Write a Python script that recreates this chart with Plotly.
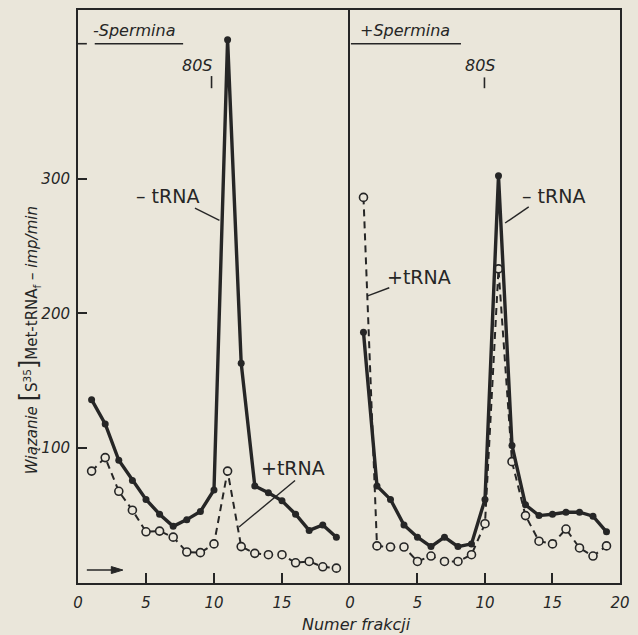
import plotly.graph_objects as go

# ---- data ----
fractions = list(range(1, 20))
left_minus_trna = [136, 118, 91, 76, 62, 51, 42, 47, 53, 69, 403, 163, 72, 67, 61, 51, 39, 43, 34]
left_plus_trna = [83, 93, 68, 54, 38, 38.5, 34, 23, 22.5, 29, 83, 27, 22, 21, 21, 15, 16, 12, 11]
right_minus_trna = [186, 72, 62, 43, 34, 27, 34, 27, 29, 62, 302, 102, 58, 50, 51, 52.5, 52.5, 49.6, 38]
right_plus_trna = [286, 27.5, 26.7, 26.7, 16, 20, 16, 16, 21, 44, 233, 90, 50, 31, 29, 40, 26, 20, 27.5]

x_left_ticks = [0, 5, 10, 15]
x_right_ticks = [0, 5, 10, 15, 20]
y_ticks = [100, 200, 300]

BG = "#eae6da"
INK = "#262626"
FONT = "DejaVu Sans"

fig = go.Figure()

def add_panel(xa, ya, minus, plus):
    fig.add_trace(go.Scatter(
        x=fractions, y=plus, xaxis=xa, yaxis=ya, mode="lines+markers",
        line=dict(color=INK, width=2, dash="7px,5px"),
        marker=dict(symbol="circle", size=8, color=BG, line=dict(color=INK, width=1.6)),
        showlegend=False, hoverinfo="skip"))
    fig.add_trace(go.Scatter(
        x=fractions, y=minus, xaxis=xa, yaxis=ya, mode="lines+markers",
        line=dict(color=INK, width=3.4),
        marker=dict(symbol="circle", size=7, color=INK),
        showlegend=False, hoverinfo="skip"))

add_panel("x", "y", left_minus_trna, left_plus_trna)
add_panel("x2", "y2", right_minus_trna, right_plus_trna)

split = (355 - 78) / 552
axis_common = dict(range=[0, 20], showgrid=False, zeroline=False, showline=True, mirror=True,
                   linewidth=2, linecolor=INK, ticks="inside", ticklen=10, tickwidth=1.6,
                   tickcolor=INK, ticklabelstandoff=5,
                   tickfont=dict(family=FONT, size=15, color=INK, style="italic"))
fig.update_layout(
    width=638, height=635,
    margin=dict(l=78, r=8, t=9, b=52),
    paper_bgcolor=BG, plot_bgcolor=BG,
    xaxis=dict(domain=[0, split], tickvals=x_left_ticks, anchor="y", **axis_common),
    xaxis2=dict(domain=[split, 1], tickvals=x_right_ticks, anchor="y2", **axis_common),
    yaxis=dict(range=[0, 425], domain=[0, 1], showgrid=False, zeroline=False, showline=True,
               mirror=False, linewidth=2, linecolor=INK, ticks="inside", ticklen=9, tickwidth=1.6,
               tickcolor=INK, tickvals=y_ticks, ticklabelstandoff=3,
               tickfont=dict(family=FONT, size=15, color=INK, style="italic"), anchor="x"),
    yaxis2=dict(range=[0, 425], domain=[0, 1], showgrid=False, zeroline=False, showline=True,
                mirror=True, linewidth=2, linecolor=INK, showticklabels=False, ticks="",
                anchor="x2"),
)

def ann(text, x, y, xr, size, italic=False, **kw):
    fig.add_annotation(text=text, x=x, y=y, xref=xr, yref="y", showarrow=False,
                       font=dict(family=FONT, size=size, color=INK,
                                 style="italic" if italic else "normal"), **kw)

def seg(x0, y0, x1, y1, xr, w=1.4):
    fig.add_shape(type="line", x0=x0, y0=y0, x1=x1, y1=y1, xref=xr, yref="y",
                  line=dict(color=INK, width=w))

# unlabelled tick at 400 on the left axis
seg(0, 400, 0.65, 400, "x", 1.6)

# left panel labels
ann("-Spermina", 4.1, 410, "x", 16, italic=True)
seg(1.23, 400, 7.73, 400, "x", 1.6)
ann("80S", 8.8, 384, "x", 16, italic=True)
seg(9.82, 376, 9.82, 367, "x", 1.6)
ann("– tRNA", 6.6, 287, "x", 19)
seg(8.6, 278, 10.4, 269, "x")
ann("+tRNA", 15.8, 85, "x", 19)
seg(15.96, 76, 11.84, 41.5, "x")
# arrow at bottom left
seg(0.65, 9.6, 3.0, 9.6, "x", 1.5)
fig.add_shape(type="path", path="M 2.45,12.2 L 3.3,9.6 L 2.45,7.0 Z", xref="x", yref="y",
              fillcolor=INK, line=dict(color=INK, width=1))

# right panel labels
ann("+Spermina", 4.07, 410, "x2", 16, italic=True)
seg(0.07, 400, 8.22, 400, "x2", 1.6)
ann("80S", 9.67, 384, "x2", 16, italic=True)
seg(9.96, 375, 9.96, 367, "x2", 1.6)
ann("– tRNA", 15.05, 287, "x2", 19)
seg(13.24, 279, 11.49, 267, "x2")
ann("+tRNA", 5.1, 227, "x2", 19)
seg(2.91, 219, 1.31, 213, "x2")

# axis titles
fig.add_annotation(
    text=("<i>Wiązanie</i> <span style='font-size:24px'>[</span>S<sup>35</sup>"
          "<span style='font-size:24px'>]</span>Met-tRNA<sub>f</sub> <i>– imp/min</i>"),
    x=(29 - 78) / 552, y=(583 - 340) / 574, xref="paper", yref="paper", textangle=-90,
    showarrow=False, xanchor="center", yanchor="middle",
    font=dict(family=FONT, size=15, color=INK))
fig.add_annotation(text="Numer frakcji", x=(362 - 78) / 552, y=(583 - 625) / 574,
                   xref="paper", yref="paper", showarrow=False, xanchor="center",
                   yanchor="middle", font=dict(family=FONT, size=16, color=INK, style="italic"))

fig.write_html("out.html")
